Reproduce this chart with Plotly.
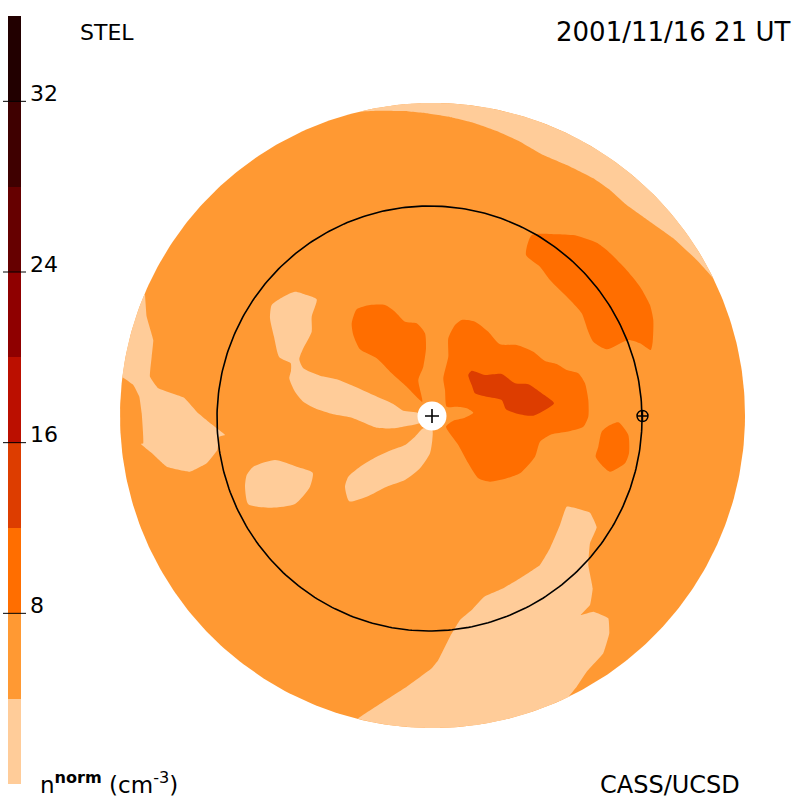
import numpy as np
import plotly.graph_objects as go

# Density levels (cm^-3) and their colours
level_edges = [0, 4, 8, 12, 16, 20, 24, 28, 32, 36]
level_colors = ["#FFCC99", "#FF9933", "#FF6E00", "#DD3D00", "#BB0F00",
                "#8F0000", "#660000", "#3F0000", "#220000"]
cbar_ticks = [8, 16, 24, 32]

# Contour outlines, heliocentric offsets
low_petal_upper_x = [-14, -28.7, -38.7, -58.7, -78.7, -95.3, -112, -128.7, -132.7, -128.7, -120.3, -120.3, -115.3, -125.3, -137, -148.7, -160.3, -162, -158, -152.7, -141.3, -141, -142.7, -137, -128.7, -117, -98.7, -82, -70.3, -55.3, -38.7, -25.3, -12]
low_petal_upper_y = [3, 5.3, 12, 21, 30, 36.7, 40.3, 47.7, 56.7, 67.7, 84.3, 99.3, 116.7, 121, 124.3, 119.3, 111, 97.7, 79.3, 58.7, 52.7, 45.3, 37.7, 24.3, 14.3, 7.7, 1.7, -1.3, -5.7, -11.7, -12.3, -10, -6.7]

low_petal_lower_x = [-8.7, -17, -27, -40.3, -55.3, -72, -83.7, -87, -82.7, -65.3, -45.3, -27, -12, -2, 0.3, 0.3]
low_petal_lower_y = [-12.3, -20.7, -29, -34, -40.7, -50.7, -60.7, -70.7, -85.3, -80.7, -70.7, -64, -52.3, -37.3, -24, -14]

low_blob_x = [-185.3, -178.7, -157, -135.3, -119.3, -122, -137, -160.3, -183.7, -187]
low_blob_y = [-59, -50.7, -44, -50.7, -56.7, -70.7, -88, -91.7, -88.3, -70.7]

low_left_x = [-287, -285.3, -278.7, -280.3, -282, -273.7, -248, -233.7, -215.3, -207, -212.7, -214.7, -225.3, -242, -265.3, -280, -291, -288.7, -290.3, -292.7, -298.7, -309.3]
low_left_y = [121, 99.3, 76, 59.3, 39.3, 27.7, 18.3, 2.7, -12.3, -19, -20.7, -34, -47.3, -55.7, -50.7, -37.3, -28, -27.3, 2.7, 19.3, 31, 38.7]
low_left_rim = [172.9, 157.1]

low_top_x = [-72, -55.3, -28.7, -5.3, 18, 41.3, 64.7, 88, 111.3, 134.7, 161.3, 178, 194.7, 218, 241.3, 264.7, 281.3]
low_top_y = [304.5, 305.3, 305, 302.7, 299, 293.3, 285, 274.3, 261, 251, 237.7, 226, 211, 194.3, 177.7, 156, 137.7]
low_top_rim = [26, 103.3]

low_bottom_x = [-73.7, -48.7, -25.3, -0.3, 6.3, 18, 28, 39.7, 52.3, 71.3, 88, 108, 118, 128, 134.7, 158, 164.7, 158, 156.3, 160.7, 158, 148.7, 161.3, 176.3, 177.3, 171.3, 154.7, 144.7, 137.3]
low_bottom_y = [-302.3, -285.7, -270.7, -252.3, -244, -220.7, -204, -194, -180.7, -172.3, -162.3, -149, -132.3, -109, -90.7, -96.7, -111.3, -127.3, -149, -172.3, -189, -199, -195.7, -202.3, -217.3, -237.3, -255.7, -270.7, -280]
low_bottom_rim = [-63.9, -103.7]

mid_petal_x = [-9.7, -25.3, -40.3, -55.3, -72, -78.7, -80.3, -75.3, -62, -47, -37, -27, -15.3, -7, -6, -8.7, -13.7]
mid_petal_y = [14.3, 29.3, 42.7, 57.7, 66.7, 81, 92.7, 106.7, 111, 111, 104.3, 94.3, 92.7, 82.7, 67.7, 49.3, 36]

mid_centre_x = [14.7, 13, 11.3, 16.3, 16.3, 23, 29.7, 43, 56.3, 68, 84.7, 101.3, 113, 124.7, 134.7, 146.3, 153, 156.3, 156.3, 151.3, 134.7, 119.7, 108, 103, 88, 74.7, 58, 46.3, 36.3, 26.3, 14, 21.3, 31.3, 41.3, 34.7, 24.7]
mid_centre_y = [9.3, 26, 37.7, 59.3, 77.7, 91, 96, 94.3, 84.3, 71.7, 71, 64.3, 55, 52, 46, 42.7, 32.7, 16, -0.7, -10.7, -15.7, -18.3, -25.7, -40.7, -57.3, -62.3, -65.7, -62.3, -47.3, -29, -10.7, -4.7, -2.3, 3.3, 7.7, 9.3]

mid_right_x = [186.3, 196.3, 197, 193, 178, 171.3, 163.7, 166.3, 169.7, 176.3]
mid_right_y = [-6.3, -19, -37.3, -47.3, -55.7, -50.7, -40.7, -30.7, -15.7, -10]

mid_upper_x = [99.7, 126.3, 144.7, 164.7, 174.7, 193, 208, 218, 221.3, 220.7, 218.7, 208, 196.3, 174.7, 161.3, 156.3, 149.7, 138, 118, 108, 94]
mid_upper_y = [181, 181.7, 180.3, 173.3, 166, 147.7, 129.3, 111, 96, 74.3, 66, 72.7, 76, 66.7, 74.3, 84.3, 102.7, 116, 136, 149.3, 161]

high_core_x = [36.3, 39.7, 53, 69.7, 83, 96.3, 109.7, 122, 101.3, 86.3, 74, 69.7, 54.7, 43, 39.7]
high_core_y = [41, 45.3, 41, 42, 32.7, 31.7, 22.7, 12.7, 0.3, 2, 6.7, 16, 19.3, 22.7, 31]

DISK_C, DISK_R = (0.5, 0.5), 312.5
ORBIT_C, ORBIT_R = (-2.5, -2.5), 212.5
EARTH = (210.5, 0)


def arc(c, r, a0, a1, n=120):
    t = np.radians(np.linspace(a0, a1, n))
    return c[0] + r * np.cos(t), c[1] + r * np.sin(t)


def with_rim(xs, ys, rim):
    ax, ay = arc(DISK_C, DISK_R, rim[0], rim[1])
    return list(xs) + list(ax), list(ys) + list(ay)


def region(xs, ys, color, smooth=0.6):
    line = dict(width=0, shape="spline", smoothing=smooth) if smooth else dict(width=0)
    return go.Scatter(x=list(xs) + [xs[0]], y=list(ys) + [ys[0]], mode="lines",
                      fill="toself", fillcolor=color, line=line,
                      hoverinfo="skip", showlegend=False)


fig = go.Figure()

# Disk base
dx, dy = arc(DISK_C, DISK_R, 0, 360, 400)
fig.add_trace(region(list(dx), list(dy), level_colors[1], smooth=0))

# Lowest level
for xs, ys, rim in [(low_left_x, low_left_y, low_left_rim),
                    (low_top_x, low_top_y, low_top_rim),
                    (low_bottom_x, low_bottom_y, low_bottom_rim)]:
    lx, ly = with_rim(xs, ys, rim)
    fig.add_trace(region(lx, ly, level_colors[0], smooth=0.3))
for xs, ys in [(low_petal_upper_x, low_petal_upper_y),
               (low_petal_lower_x, low_petal_lower_y),
               (low_blob_x, low_blob_y)]:
    fig.add_trace(region(xs, ys, level_colors[0]))

# Higher levels
for xs, ys in [(mid_petal_x, mid_petal_y), (mid_centre_x, mid_centre_y),
               (mid_right_x, mid_right_y), (mid_upper_x, mid_upper_y)]:
    fig.add_trace(region(xs, ys, level_colors[2]))
fig.add_trace(region(high_core_x, high_core_y, level_colors[3]))

# Earth orbit
ox, oy = arc(ORBIT_C, ORBIT_R, 0, 360, 400)
fig.add_trace(go.Scatter(x=ox, y=oy, mode="lines", line=dict(color="black", width=1.6),
                         hoverinfo="skip", showlegend=False))

# Sun and Earth
fig.add_trace(go.Scatter(x=[0], y=[0], mode="markers",
                         marker=dict(color="white", size=29, line=dict(width=0)),
                         hoverinfo="skip", showlegend=False))
fig.add_trace(go.Scatter(x=[0], y=[0], mode="markers",
                         marker=dict(symbol="cross-thin", size=10,
                                     line=dict(color="black", width=1.6)),
                         hoverinfo="skip", showlegend=False))
fig.add_trace(go.Scatter(x=[EARTH[0]], y=[EARTH[1]], mode="markers",
                         marker=dict(symbol="circle-cross-open", size=11, color="black",
                                     line=dict(color="black", width=1.4)),
                         hoverinfo="skip", showlegend=False))

# Colour bar
fig.add_trace(go.Bar(x=[0] * len(level_colors),
                     y=np.diff(level_edges),
                     base=level_edges[:-1],
                     width=1,
                     marker=dict(color=level_colors, line=dict(width=0)),
                     xaxis="x2", yaxis="y2", hoverinfo="skip", showlegend=False))

shapes = [dict(type="line", xref="paper", yref="y2", x0=3 / 800, x1=26 / 800, y0=t, y1=t,
               layer="above", line=dict(color="black", width=1)) for t in cbar_ticks]

FONT = "DejaVu Sans"


def label(text, x, y, anchor, size):
    return dict(text=text, xref="paper", yref="paper", x=x / 800, y=1 - y / 800,
                xanchor=anchor, yanchor="middle", showarrow=False,
                font=dict(family=FONT, size=size, color="black"))


annotations = [
    label("STEL", 78, 32, "left", 22),
    label("2001/11/16 21 UT", 792, 32, "right", 26),
    label("CASS/UCSD", 598, 785, "left", 24),
    label("n<sup><b>norm</b></sup> (cm<sup>-3</sup>)", 38, 783, "left", 23),
]
annotations += [dict(text=str(t), xref="paper", yref="y2", x=28 / 800, y=t, yshift=8,
                     xanchor="left", yanchor="middle", showarrow=False,
                     font=dict(family=FONT, size=22, color="black")) for t in cbar_ticks]

fig.update_layout(
    width=800, height=800, margin=dict(l=0, r=0, t=0, b=0),
    paper_bgcolor="white", plot_bgcolor="white", showlegend=False,
    bargap=0, shapes=shapes, annotations=annotations,
    xaxis=dict(domain=[0, 1], range=[-432, 368], visible=False, fixedrange=True),
    yaxis=dict(domain=[0, 1], range=[-384, 416], visible=False, fixedrange=True),
    xaxis2=dict(domain=[8 / 800, 21 / 800], range=[-0.5, 0.5], visible=False,
                anchor="y2", fixedrange=True),
    yaxis2=dict(domain=[16 / 800, 784 / 800], range=[0, 36], anchor="x2",
                visible=False, fixedrange=True),
)

fig.write_html("out.html", config=dict(displayModeBar=False),
               post_script="document.body.style.margin='0';")
